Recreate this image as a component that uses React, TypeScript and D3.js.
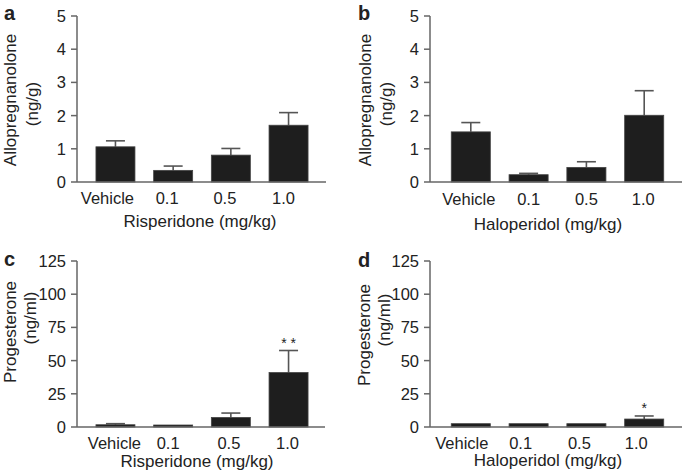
import React from "react";
import * as d3 from "d3";

const categories = ["Vehicle", "0.1", "0.5", "1.0"];

const alloRisMean = [1.06, 0.35, 0.81, 1.71];
const alloRisSem = [0.18, 0.13, 0.2, 0.38];
const alloHalMean = [1.51, 0.22, 0.44, 2.01];
const alloHalSem = [0.28, 0.04, 0.17, 0.74];
const progRisMean = [1.7, 1.5, 7.2, 41];
const progRisSem = [0.8, 0, 3.3, 16.6];
const progHalMean = [2.5, 2.5, 2.5, 6];
const progHalSem = [0, 0, 0, 2.3];
const progRisSig = ["", "", "", "* *"];
const progHalSig = ["", "", "", "*"];

const alloTicks = [0, 1, 2, 3, 4, 5];
const progTicks = [0, 25, 50, 75, 100, 125];

const FONT = "'Liberation Sans', Arial, Helvetica, sans-serif";
const TXT = "#222";
const AX = "#666";

type PanelCfg = {
  letter: string;
  letterX: number;
  letterY: number;
  mean: number[];
  sem: number[];
  sig?: string[];
  ticks: number[];
  yMax: number;
  axisX: number;
  axisEnd: number;
  yTop: number;
  yBase: number;
  band: [number, number];
  tickLabelY: number;
  tickDx: number[];
  yTitle: [string, string];
  yTitleX: [number, number];
  yTitleCy: [number, number];
  xTitle: string;
  xTitleX: number;
  xTitleY: number;
};

const panels: PanelCfg[] = [
  {
    letter: "a", letterX: 4, letterY: 20,
    mean: alloRisMean, sem: alloRisSem, ticks: alloTicks, yMax: 5,
    axisX: 77, axisEnd: 326, yTop: 16, yBase: 182, band: [86.6, 317.4],
    tickLabelY: 204, tickDx: [-8, -6, -6, -5],
    yTitle: ["Allopregnanolone", "(ng/g)"], yTitleX: [16, 38], yTitleCy: [100, 104],
    xTitle: "Risperidone (mg/kg)", xTitleX: 200, xTitleY: 227,
  },
  {
    letter: "b", letterX: 358, letterY: 20,
    mean: alloHalMean, sem: alloHalSem, ticks: alloTicks, yMax: 5,
    axisX: 430, axisEnd: 682, yTop: 16, yBase: 182, band: [441.9, 673.1],
    tickLabelY: 205, tickDx: [-2, 0, 0, -1],
    yTitle: ["Allopregnanolone", "(ng/g)"], yTitleX: [371, 392], yTitleCy: [100, 104],
    xTitle: "Haloperidol (mg/kg)", xTitleX: 548, xTitleY: 230,
  },
  {
    letter: "c", letterX: 4, letterY: 266,
    mean: progRisMean, sem: progRisSem, sig: progRisSig, ticks: progTicks, yMax: 125,
    axisX: 77, axisEnd: 325, yTop: 261, yBase: 427, band: [86.6, 317.4],
    tickLabelY: 449, tickDx: [-1, -5, -2, -1],
    yTitle: ["Progesterone", "(ng/ml)"], yTitleX: [16, 36], yTitleCy: [332, 318],
    xTitle: "Risperidone (mg/kg)", xTitleX: 197, xTitleY: 467,
  },
  {
    letter: "d", letterX: 358, letterY: 267,
    mean: progHalMean, sem: progHalSem, sig: progHalSig, ticks: progTicks, yMax: 125,
    axisX: 430, axisEnd: 682, yTop: 261, yBase: 427, band: [441.9, 673.1],
    tickLabelY: 449, tickDx: [-9, -8, -7, -8],
    yTitle: ["Progesterone", "(ng/ml)"], yTitleX: [370, 390], yTitleCy: [335, 320],
    xTitle: "Haloperidol (mg/kg)", xTitleX: 548, xTitleY: 466,
  },
];

function Panel({ p }: { p: PanelCfg }) {
  const x = d3.scaleBand<string>().domain(categories).range(p.band).paddingInner(0.324).paddingOuter(0.162);
  const y = d3.scaleLinear().domain([0, p.yMax]).range([p.yBase, p.yTop]);
  const bw = x.bandwidth();
  const capW = 19;
  return (
    <g>
      <text x={p.letterX} y={p.letterY} fontFamily={FONT} fontWeight="bold" fontSize={20} fill={TXT}>{p.letter}</text>
      {categories.map((c, i) => {
        const x0 = x(c)!;
        const top = y(p.mean[i]);
        const cx = x0 + bw / 2;
        const et = y(p.mean[i] + p.sem[i]);
        return (
          <g key={c}>
            {p.sem[i] > 0 && (
              <g stroke="#555" strokeWidth={1.6}>
                <line x1={cx} x2={cx} y1={top} y2={et} />
                <line x1={cx - capW / 2} x2={cx + capW / 2} y1={et} y2={et} />
              </g>
            )}
            <rect x={x0} y={top} width={bw} height={p.yBase - top} fill="#1e1e1e" stroke="#444" strokeWidth={0.8} />
            {p.sig && p.sig[i] && (
              <text x={cx} y={et - 3} textAnchor="middle" fontFamily={FONT} fontSize={14} fill={TXT}>{p.sig[i]}</text>
            )}
            <text x={cx + p.tickDx[i]} y={p.tickLabelY} textAnchor="middle" fontFamily={FONT} fontSize={16.5} fill={TXT}>{c}</text>
          </g>
        );
      })}
      <line x1={p.axisX} x2={p.axisX} y1={p.yTop} y2={p.yBase} stroke={AX} strokeWidth={1.5} />
      <line x1={p.axisX} x2={p.axisEnd} y1={p.yBase} y2={p.yBase} stroke={AX} strokeWidth={1.5} />
      {p.ticks.map((t) => (
        <g key={t}>
          <line x1={p.axisX - 6} x2={p.axisX} y1={y(t)} y2={y(t)} stroke={AX} strokeWidth={1.5} />
          <text x={p.axisX - 11} y={y(t)} dy="0.36em" textAnchor="end" fontFamily={FONT} fontSize={16.5} fill={TXT}>{t}</text>
        </g>
      ))}
      {p.yTitle.map((s, k) => (
        <text key={k} transform={`translate(${p.yTitleX[k]},${p.yTitleCy[k]}) rotate(-90)`} textAnchor="middle" fontFamily={FONT} fontSize={17} fill={TXT}>{s}</text>
      ))}
      <text x={p.xTitleX} y={p.xTitleY} textAnchor="middle" fontFamily={FONT} fontSize={17} fill={TXT}>{p.xTitle}</text>
    </g>
  );
}

export default function App() {
  return (
    <svg width={685} height={472} style={{ position: "absolute", left: 0, top: 0, background: "#fff" }}>
      <rect width={685} height={472} fill="#fff" />
      {panels.map((p) => (
        <Panel key={p.letter} p={p} />
      ))}
    </svg>
  );
}
